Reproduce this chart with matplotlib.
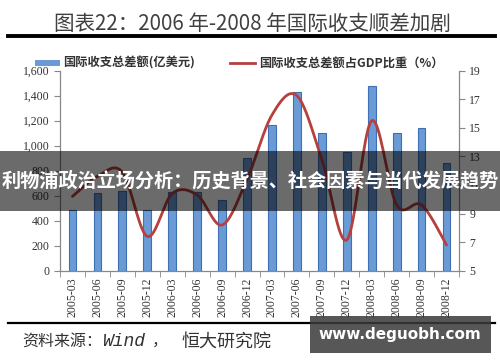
import numpy as np
import matplotlib
matplotlib.use("Agg")
import matplotlib.pyplot as plt
from matplotlib.patches import Rectangle
from matplotlib.lines import Line2D
from matplotlib.ticker import FuncFormatter, FixedLocator

plt.rcParams['font.family'] = ['Noto Sans CJK SC', 'DejaVu Sans']

categories = ["2005-03", "2005-06", "2005-09", "2005-12", "2006-03", "2006-06",
              "2006-09", "2006-12", "2007-03", "2007-06", "2007-09", "2007-12",
              "2008-03", "2008-06", "2008-09", "2008-12"]
balance = [488, 622, 635, 488, 627, 627, 568, 902, 1166, 1432, 1104, 950,
           1480, 1104, 1144, 859]
gdp_share = [10.2, 11.6, 11.9, 7.4, 10.4, 10.3, 8.2, 11.4, 15.9, 17.25, 12.8, 7.15,
             15.5, 9.6, 9.6, 6.8]

title = "图表22：2006 年-2008 年国际收支顺差加剧"
legend_bar = "国际收支总差额(亿美元)"
legend_line = "国际收支总差额占GDP比重（%）"
source_a = "资料来源："
source_b = "Wind"
source_comma = "，"
source_c = "恒大研究院"
banner = "利物浦政治立场分析：历史背景、社会因素与当代发展趋势"
watermark = "www.deguobh.com"

W, H = 500, 362
def fx(x): return x / W
def fy(y): return 1 - y / H

fig = plt.figure(figsize=(5.0, 3.62), dpi=100)
fig.patch.set_facecolor('white')
ax = fig.add_axes([fx(60), fy(270.7), fx(459) - fx(60), fy(70.7) - fy(270.7)])
ax2 = ax.twinx()

x = np.arange(len(categories))
ax.bar(x, balance, width=0.31, color='#6b9bd6', edgecolor='#3f70b4', linewidth=0.8, zorder=2)
ax.set_xlim(-0.5, len(categories) - 0.5)
ax.set_ylim(0, 1600)
ax.set_yticks(np.arange(0, 1601, 200))
ax.yaxis.set_major_formatter(FuncFormatter(lambda v, p: f"{int(v):,}"))

# smooth line (Catmull-Rom rendering through the data points)
def catmull(xs, ys, n=20):
    xs = np.asarray(xs, float); ys = np.asarray(ys, float)
    px = np.concatenate([[xs[0]], xs, [xs[-1]]])
    py = np.concatenate([[ys[0]], ys, [ys[-1]]])
    ox, oy = [], []
    t = np.linspace(0, 1, n, endpoint=False)
    for i in range(1, len(px) - 2):
        for o, arr in ((ox, px), (oy, py)):
            P0, P1, P2, P3 = arr[i-1], arr[i], arr[i+1], arr[i+2]
            v = 0.5 * ((2 * P1) + (-P0 + P2) * t + (2 * P0 - 5 * P1 + 4 * P2 - P3) * t**2
                       + (-P0 + 3 * P1 - 3 * P2 + P3) * t**3)
            o.extend(v)
    ox.append(xs[-1]); oy.append(ys[-1])
    return np.array(ox), np.array(oy)

sx, sy = catmull(x, gdp_share)
ax2.plot(sx, sy, color='#b5403d', linewidth=2.0, zorder=3, solid_capstyle='round')
ax2.set_ylim(5, 19)
ax2.set_yticks(np.arange(5, 20, 2))

# x ticks between categories
ax.set_xticks(x)
ax.set_xticklabels(categories, rotation=90, fontsize=8.5, family='Liberation Serif', color='#333333')
ax.xaxis.set_minor_locator(FixedLocator(np.arange(-0.5, len(categories), 1)))
ax.tick_params(axis='x', which='major', length=0, pad=5)
ax.tick_params(axis='x', which='minor', length=4, color='#888888', direction='out')
ax.tick_params(axis='y', length=4, color='#888888', labelsize=8.5, labelcolor='#333333')
ax2.tick_params(axis='y', length=4, color='#888888', labelsize=8.5, labelcolor='#333333')
for lab in ax.get_yticklabels() + ax2.get_yticklabels():
    lab.set_family('Liberation Serif')

for a in (ax, ax2):
    a.spines['top'].set_visible(False)
    for s in ('left', 'right', 'bottom'):
        a.spines[s].set_color('#888888')
        a.spines[s].set_linewidth(0.9)
ax.spines['right'].set_visible(False)
ax2.spines['left'].set_visible(False)
ax2.spines['bottom'].set_visible(False)

# legend (manual)
fig.patches.append(Rectangle((fx(35), fy(66)), fx(60) - fx(35), fy(60) - fy(66),
                             transform=fig.transFigure, facecolor='#6b9bd6',
                             edgecolor='none', zorder=5))
fig.text(fx(63), fy(63), legend_bar, fontsize=8.8, fontweight='bold', color='#333333',
         va='center', ha='left')
fig.lines.append(Line2D([fx(230), fx(255)], [fy(63), fy(63)], transform=fig.transFigure,
                        color='#b5403d', linewidth=2.0))
fig.text(fx(259), fy(63), legend_line, fontsize=8.8, fontweight='bold', color='#333333',
         va='center', ha='left')

# title and rules
fig.text(fx(252), fy(24), title, fontsize=14.8, color='#404040', ha='center', va='center')
fig.lines.append(Line2D([fx(8), fx(495)], [fy(35.5), fy(35.5)], transform=fig.transFigure,
                        color='black', linewidth=2.8))
fig.lines.append(Line2D([fx(8), fx(495)], [fy(322.7), fy(322.7)], transform=fig.transFigure,
                        color='black', linewidth=1.6))
fig.text(fx(22), fy(341.5), source_a, fontsize=11.5, color='#333333', ha='left', va='center',
         style='italic')
fig.text(fx(102), fy(341.5), source_b, fontsize=13, color='#333333', ha='left', va='center',
         style='italic', family=['Liberation Mono', 'Noto Sans CJK SC'])
fig.text(fx(152), fy(341.5), source_comma, fontsize=11.5, color='#333333', ha='left', va='center')
fig.text(fx(181), fy(341.5), source_c, fontsize=13, color='#333333', ha='left', va='center',
         style='italic')

# banner overlay
fig.patches.append(Rectangle((0, fy(211)), 1, fy(151) - fy(211), transform=fig.transFigure,
                             facecolor='black', alpha=0.58, edgecolor='none', zorder=10))
fig.text(fx(250), fy(181), banner, fontsize=13.8, fontweight='bold', color='white',
         ha='center', va='center', zorder=11)

# watermark box
fig.patches.append(Rectangle((fx(310), fy(353)), fx(491) - fx(310), fy(316) - fy(353),
                             transform=fig.transFigure, facecolor='#3a3a3a', alpha=0.85,
                             edgecolor='none', zorder=10))
fig.text(fx(400), fy(335), watermark, fontsize=11, fontweight='bold', color='white',
         ha='center', va='center', zorder=11, family='DejaVu Sans')

fig.savefig('out.png', dpi=100)
